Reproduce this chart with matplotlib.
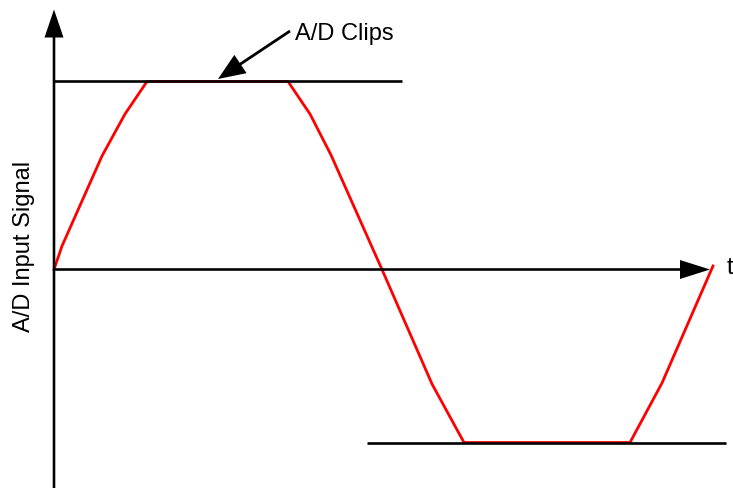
import matplotlib.pyplot as plt

# red A/D input signal, clipped top and bottom (t, value), origin where axes cross
sig_t = [0, 8, 48, 71, 93, 234, 256, 277, 328, 378, 410, 576, 608, 659]
sig_v = [0, 23.5, 113.5, 155.5, 188, 188, 155.5, 114.5, 0, -114.5, -173, -173, -113.5, 3.5]

clip_hi = 188.5
clip_lo = -173.5
clip_hi_span = (0, 348)
clip_lo_span = (313, 672)

plt.rcParams['font.family'] = ['Liberation Sans', 'DejaVu Sans']

fig = plt.figure(figsize=(7.33, 4.89), dpi=100)
ax = fig.add_axes([0, 0, 1, 1])
ax.set_xlim(-54, 679)
ax.set_ylim(-218.5, 270.5)
ax.set_aspect('equal')
ax.axis('off')

ax.plot(sig_t, sig_v, color='#ff0000', lw=2, solid_joinstyle='round', zorder=2)

# axes with arrow heads
ax.arrow(0, -220, 0, 480, width=2.6, head_width=19, head_length=28,
         length_includes_head=True, color='black', lw=0, zorder=3)
ax.arrow(0, 0, 656, 0, width=2.6, head_width=19, head_length=30,
         length_includes_head=True, color='black', lw=0, zorder=3)

# clip levels
ax.plot(clip_hi_span, [clip_hi, clip_hi], color='black', lw=1.9, solid_capstyle='butt', zorder=3)
ax.plot(clip_lo_span, [clip_lo, clip_lo], color='black', lw=1.9, solid_capstyle='butt', zorder=3)

ax.text(673, 2, 't', fontsize=17, ha='left', va='center')
ax.text(-30, 24.5, 'A/D Input Signal', fontsize=17, rotation=90, ha='center', va='center')

ax.text(241, 230.5, 'A/D Clips', fontsize=17, ha='left', va='baseline')
ax.arrow(236, 238.5, -72, -48, width=2.8, head_width=22, head_length=27,
         length_includes_head=True, color='black', lw=0, zorder=4)

fig.savefig('out.png', dpi=100)
